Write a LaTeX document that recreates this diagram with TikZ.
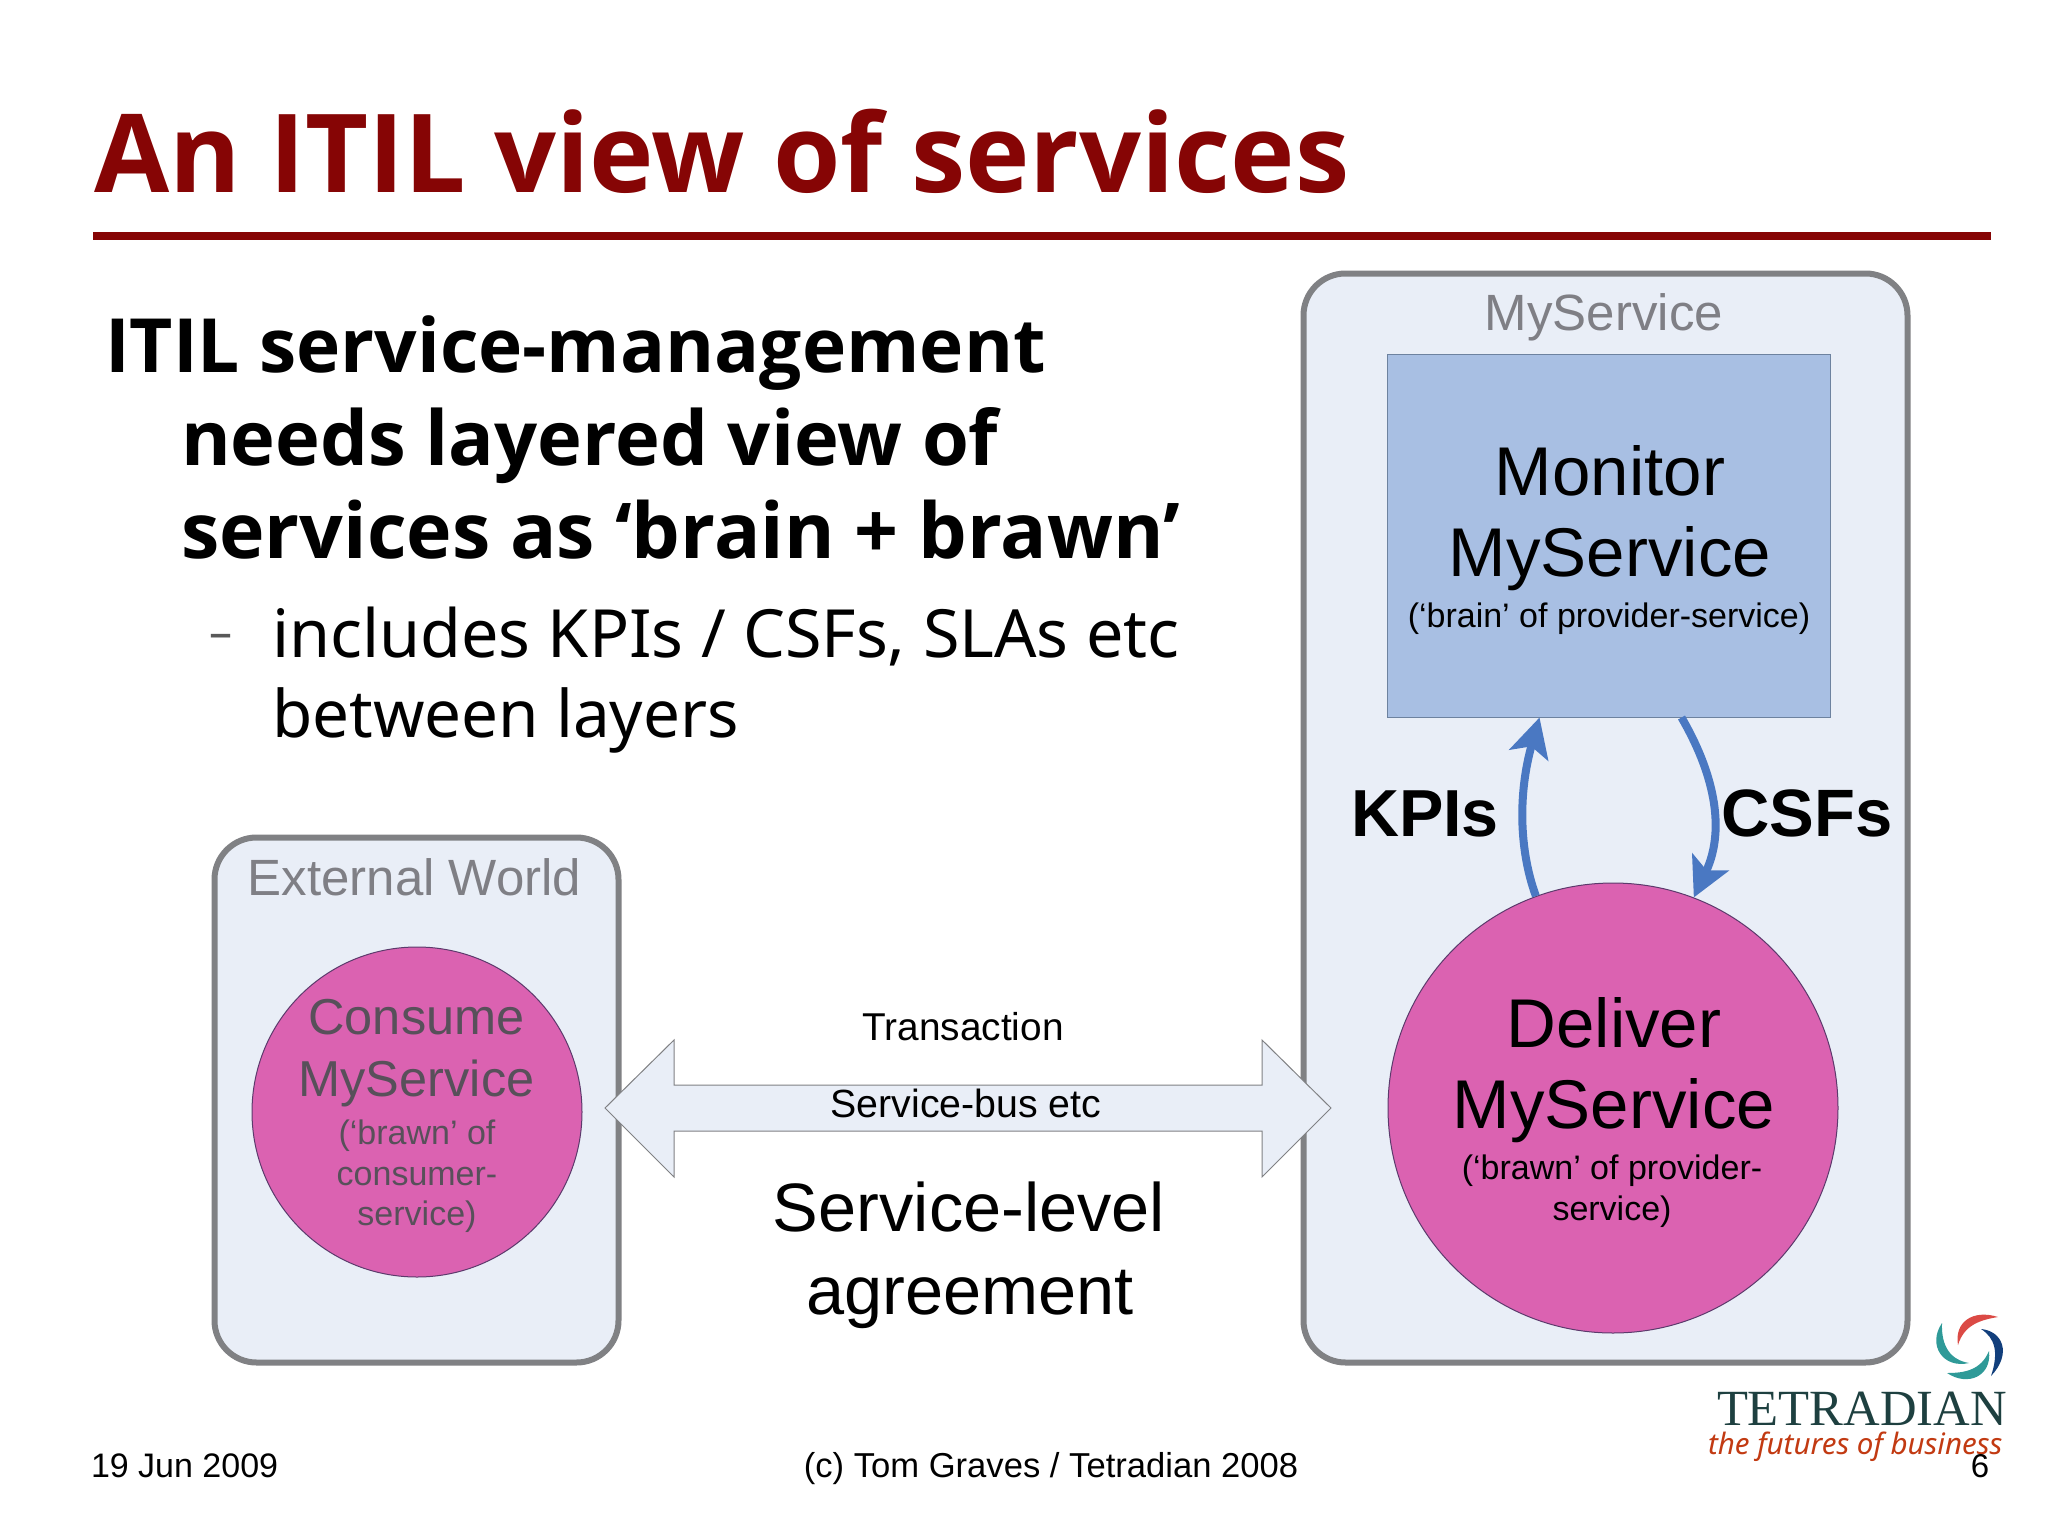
\documentclass[tikz,border=0pt]{standalone}
\usepackage{fontspec}
\setmainfont{Liberation Sans}
\newfontfamily\slidefont{Noto Sans}
\newfontfamily\slidebold{Open Sans}
\newfontfamily\logoserif{Liberation Serif}
\usetikzlibrary{arrows.meta}
\newcommand{\fsz}[1]{\fontsize{#1}{#1}\selectfont}
\definecolor{titlered}{HTML}{860505}
\definecolor{boxfill}{HTML}{E9EEF7}
\definecolor{boxline}{HTML}{808184}
\definecolor{greytext}{HTML}{7F7F85}
\definecolor{monfill}{HTML}{A8BFE3}
\definecolor{monline}{HTML}{6D829F}
\definecolor{pinkfill}{HTML}{DB62B1}
\definecolor{pinkline}{HTML}{5C3A6C}
\definecolor{pinktext}{HTML}{58505A}
\definecolor{flowblue}{HTML}{4A78C2}
\definecolor{logogreen}{HTML}{1E4040}
\definecolor{logored}{HTML}{C23A12}
\definecolor{swirlred}{HTML}{DB4A45}
\definecolor{swirlteal}{HTML}{2F9A98}
\definecolor{swirlnavy}{HTML}{123F7C}
\tikzset{
  x=1pt,y=-1pt,
  txt/.style={anchor=base,inner sep=0pt,outer sep=0pt},
  txtl/.style={anchor=base west,inner sep=0pt,outer sep=0pt},
  groupbox/.style={draw=boxline,line width=6pt,fill=boxfill,rounded corners=42pt,inner sep=0pt},
  pinkcircle/.style={circle,draw=pinkline,line width=1pt,fill=pinkfill,inner sep=0pt},
  flow/.style={draw=flowblue,line width=8pt,-{Stealth[length=39pt,width=40pt,inset=9pt]}},
}
\begin{document}
\begin{tikzpicture}
\useasboundingbox[fill=white] (0,0) rectangle (2048,1536);
% title
\node[txtl,text=titlered,font=\slidebold\bfseries\fsz{109}] (title) at (94,193) {An ITIL view of services};
\fill[titlered] (93,232) rectangle (1991,240);
% body
\node[txtl,font=\slidebold\bfseries\fsz{74.8}] (b1) at (105,372) {ITIL service-management};
\node[txtl,font=\slidebold\bfseries\fsz{75.8}] (b2) at (181,465) {needs layered view of};
\node[txtl,font=\slidebold\bfseries\fsz{77}] (b3) at (181,558) {services as ‘brain + brawn’};
\node[txtl,text=black!65,font=\slidefont\fsz{46}] (dash) at (209,648) {–};
\node[txtl,font=\slidefont\fsz{66.5}] (b4) at (272,657) {includes KPIs / CSFs, SLAs etc};
\node[txtl,font=\slidefont\fsz{65.6}] (b5) at (272,737) {between layers};
% group boxes
\node[groupbox,minimum width=604pt,minimum height=1089pt] (myservice) at (1605.5,818) {};
\node[groupbox,minimum width=404pt,minimum height=525pt] (external) at (416.5,1100) {};
\node[txt,text=greytext,font=\fsz{51}] (myservicelabel) at (1604,330) {MyService};
\node[txt,text=greytext,font=\fsz{51}] (externallabel) at (414.5,895) {External World};
% monitor
\node[draw=monline,line width=1pt,fill=monfill,minimum width=443pt,minimum height=363pt,inner sep=0pt] (monitor) at (1608.5,535.5) {};
\node[txt,font=\fsz{69}] (m1) at (1610,495) {Monitor};
\node[txt,font=\fsz{69}] (m2) at (1610,576) {MyService};
\node[txt,font=\fsz{34}] (m3) at (1609,627) {(‘brain’ of provider-service)};
% deliver
\node[pinkcircle,minimum size=450pt] (deliver) at (1613,1108) {};
\node[txt,font=\fsz{69}] (d1) at (1614,1047) {Deliver};
\node[txt,font=\fsz{69}] (d2) at (1614,1128) {MyService};
\node[txt,font=\fsz{34}] (d3) at (1612,1179) {(‘brawn’ of provider-};
\node[txt,font=\fsz{34}] (d4) at (1612,1220) {service)};
% consume
\node[pinkcircle,minimum size=330pt] (consume) at (417,1112) {};
\node[txt,text=pinktext,font=\fsz{50.5}] (c1) at (416.5,1034) {Consume};
\node[txt,text=pinktext,font=\fsz{50.5}] (c2) at (416.5,1096) {MyService};
\node[txt,text=pinktext,font=\fsz{34}] (c3) at (417,1144) {(‘brawn’ of};
\node[txt,text=pinktext,font=\fsz{34}] (c4) at (417,1185) {consumer-};
\node[txt,text=pinktext,font=\fsz{34}] (c5) at (417,1225) {service)};
% KPI / CSF connectors
\draw[flow] (deliver.110) .. controls (1519,850) and (1518,793) .. ([xshift=-69pt]monitor.south);
\draw[flow] ([xshift=73pt]monitor.south) .. controls (1712,770) and (1727,827) .. (deliver.69);
\node[txt,font=\bfseries\fsz{66.5}] (kpis) at (1425,836) {KPIs};
\node[txt,font=\bfseries\fsz{67}] (csfs) at (1807,836) {CSFs};
% service bus arrow
\draw[draw=boxline,line width=1pt,fill=boxfill,line join=miter]
  (605,1108) -- (674,1040) -- (674,1085) -- (1262,1085) -- (1262,1040) -- (1331,1108)
  -- (1262,1177) -- (1262,1131) -- (674,1131) -- (674,1177) -- cycle;
\node[txt,font=\fsz{38.8}] (transaction) at (963,1040) {Transaction};
\node[txt,font=\fsz{39.3}] (bus) at (966,1117) {Service-bus etc};
\node[txt,font=\fsz{68.5}] (sla1) at (969,1231) {Service-level};
\node[txt,font=\fsz{68.5}] (sla2) at (970,1314) {agreement};
% footer
\node[txtl,font=\fsz{34}] (date) at (91,1477) {19 Jun 2009};
\node[txt,font=\fsz{34.6}] (copy) at (1051,1477) {(c) Tom Graves / Tetradian 2008};
% logo
\fill[swirlred] (1958,1345) .. controls (1954,1322) and (1973,1309) .. (1998,1317)
  .. controls (1980,1320) and (1964,1325) .. cycle;
\fill[swirlnavy] (1981,1329) .. controls (2003,1331) and (2012,1354) .. (1991,1376)
  .. controls (1999,1352) and (1995,1338) .. cycle;
\fill[swirlteal] (1942,1323) .. controls (1927,1345) and (1943,1369) .. (1969,1363)
  .. controls (1951,1360) and (1941,1347) .. cycle;
\fill[swirlteal] (1989,1351) .. controls (1992,1376) and (1968,1387) .. (1947,1373)
  .. controls (1965,1373) and (1981,1370) .. cycle;
\node[txtl,text=logogreen,font=\logoserif\fsz{50.7}] (logoname) at (1717,1425) {TETRADIAN};
\node[txtl,text=logored,font=\slidefont\itshape\fsz{29.5}] (logotag) at (1708,1454) {the futures of business};
\node[txt,font=\fsz{33}] (pagenum) at (1980,1477) {6};
\end{tikzpicture}
\end{document}
